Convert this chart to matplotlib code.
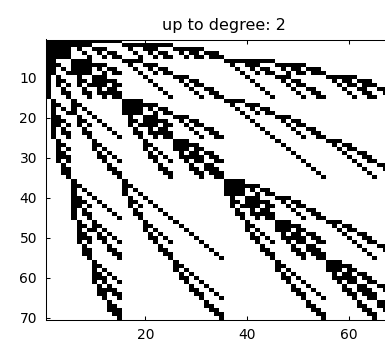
import numpy as np
import matplotlib
matplotlib.use('Agg')
import matplotlib.pyplot as plt

# nonzero columns of each row (1-based, "a-b" = run of columns), rows 1..70
rows_1_15 = [
    '1-15', '1-9,16-25', '1-5,7,10-12,17,20-22,26-31',
    '1-5,8,11,13-14,18,21,23-24,27,29-30,32-34',
    '1-5,9,12,14-15,19,22,24-25,28,30-31,33-35',
    '1-2,6-9,16-19,36-45', '1-3,6-12,17,20-22,37,40-42,46-51',
    '1-2,4,6-9,11,13-14,18,21,23-24,38,41,43-44,47,49-50,52-54',
    '1-2,5-9,12,14-15,19,22,24-25,39,42,44-45,48,50-51,53-55',
    '1,3,7,10-12,20,26-28,40,46-48,56-61',
    '1,3-4,7-8,10-14,21,27,29-30,41,47,49-50,57,59-60,62-64',
    '1,3,5,7,9-12,14-15,22,28,30-31,42,48,50-51,58,60-61,63-65',
    '1,4,8,11,13-14,23,29,32-33,43,49,52-53,59,62-63,66-68',
    '1,4-5,8-9,11-15,24,30,33-34,44,50,53-54,60,63-64,67-69',
    '1,5,9,12,14-15,25,31,34-35,45,51,54-55,61,64-65,68-70',
]
rows_16_35 = [
    '2,6,16-19,36-39', '2-3,6-7,16-22,37,40-42',
    '2,4,6,8,16-19,21,23-24,38,41,43-44', '2,5-6,9,16-19,22,24-25,39,42,44-45',
    '2-3,7,10,17,20-22,26-28,40,46-48', '2-4,7-8,11,17-18,20-24,27,29-30,41,47,49-50',
    '2-3,5,7,9,12,17,19-22,24-25,28,30-31,42,48,50-51',
    '2,4,8,13,18,21,23-24,29,32-33,43,49,52-53',
    '2,4-5,8-9,14,18-19,21-25,30,33-34,44,50,53-54',
    '2,5,9,15,19,22,24-25,31,34-35,45,51,54-55',
    '3,10,20,26-28,46,56-58', '3-4,10-11,20-21,26-30,47,57,59-60',
    '3,5,10,12,20,22,26-28,30-31,48,58,60-61', '3-4,11,13,21,23,27,29-30,32-33,49,59,62-63',
    '3-5,11-12,14,21-22,24,27-31,33-34,50,60,63-64', '3,5,12,15,22,25,28,30-31,34-35,51,61,64-65',
    '4,13,23,29,32-33,52,62,66-67', '4-5,13-14,23-24,29-30,32-34,53,63,67-68',
    '4-5,14-15,24-25,30-31,33-35,54,64,68-69', '5,15,25,31,34-35,55,65,69-70',
]
rows_36_55 = [
    '6,16,36-39', '6-7,16-17,36-42', '6,8,16,18,36-39,41,43-44', '6,9,16,19,36-39,42,44-45',
    '6-7,10,17,20,37,40-42,46-48', '6-8,11,17-18,21,37-38,40-44,47,49-50',
    '6-7,9,12,17,19,22,37,39-42,44-45,48,50-51', '6,8,13,18,23,38,41,43-44,49,52-53',
    '6,8-9,14,18-19,24,38-39,41-45,50,53-54', '6,9,15,19,25,39,42,44-45,51,54-55',
    '7,10,20,26,40,46-48,56-58', '7-8,10-11,20-21,27,40-41,46-50,57,59-60',
    '7,9-10,12,20,22,28,40,42,46-48,50-51,58,60-61', '7-8,11,13,21,23,29,41,43,47,49-50,52-53,59,62-63',
    '7-9,11-12,14,21-22,24,30,41-42,44,47-51,53-54,60,63-64',
    '7,9,12,15,22,25,31,42,45,48,50-51,54-55,61,64-65',
    '8,13,23,32,43,49,52-53,62,66-67', '8-9,13-14,23-24,33,43-44,49-50,52-54,63,67-68',
    '8-9,14-15,24-25,34,44-45,50-51,53-55,64,68-69', '9,15,25,35,45,51,54-55,65,69-70',
]
rows_56_70 = [
    '10,26,46,56-58', '10-11,26-27,46-47,56-60', '10,12,26,28,46,48,56-58,60-61',
    '10-11,13,27,29,47,49,57,59-60,62-63', '10-12,14,27-28,30,47-48,50,57-61,63-64',
    '10,12,15,28,31,48,51,58,60-61,64-65', '11,13,29,32,49,52,59,62-63,66-67',
    '11-14,29-30,33,49-50,53,59-60,62-64,67-68', '11-12,14-15,30-31,34,50-51,54,60-61,63-65,68-69',
    '12,15,31,35,51,55,61,64-65,69-70', '13,32,52,62,66-67', '13-14,32-33,52-53,62-63,66-68',
    '13-15,33-34,53-54,63-64,67-69', '14-15,34-35,54-55,64-65,68-70', '15,35,55,65,69-70',
]
xticks = [20, 40, 60]
yticks = [10, 20, 30, 40, 50, 60, 70]

all_rows = rows_1_15 + rows_16_35 + rows_36_55 + rows_56_70
n = len(all_rows)
M = np.zeros((n, n))
for i, spec in enumerate(all_rows):
    for part in spec.split(','):
        a, _, b = part.partition('-')
        M[i, int(a) - 1:int(b or a)] = 1

plt.rcParams['font.family'] = 'DejaVu Sans'
fig = plt.figure(figsize=(3.85, 3.45), dpi=100)
# axes runs past the right edge, as in the (cropped) reference
ax = fig.add_axes([46 / 385, 25 / 345, (402.7 - 46) / 385, 280.5 / 345])
ax.imshow(M, cmap='gray_r', interpolation='nearest', aspect='auto',
          extent=(0.5, n + 0.5, n + 0.5, 0.5))
ax.set_xticks(xticks)
ax.set_yticks(yticks)
ax.tick_params(direction='in', top=True, right=True, length=3, width=0.75, labelsize=10)
ax.tick_params(axis='x', pad=6)
ax.tick_params(axis='y', pad=6.5)
for s in ax.spines.values():
    s.set_linewidth(0.75)
ax.set_title('up to degree: 2', fontsize=11.5, pad=7)
fig.savefig('out.png')
